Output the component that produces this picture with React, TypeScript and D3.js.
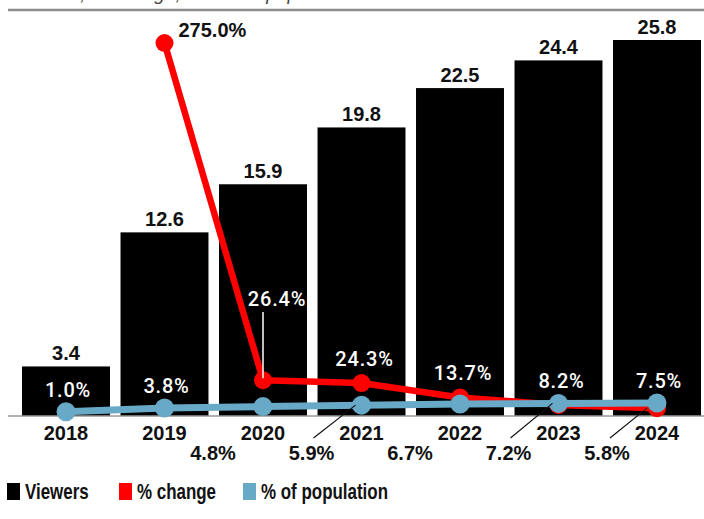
import React from "react";
import * as d3 from "d3";

const years = ["2018", "2019", "2020", "2021", "2022", "2023", "2024"];
const viewers = [3.4, 12.6, 15.9, 19.8, 22.5, 24.4, 25.8];
const pctChange: (number | null)[] = [null, 275.0, 26.4, 24.3, 13.7, 8.2, 5.8];
const pctPopulation = [1.0, 3.8, 4.8, 5.9, 6.7, 7.2, 7.5];

const legendItems = ["Viewers", "% change", "% of population"];
const subtitle = "millions, % change, and % of population";

// label placement modes (layout only)
const changeMode = ["none", "right", "leaderUp", "above", "above", "above", "belowLeader"];
const popMode = ["above", "above", "below", "belowLeader", "below", "belowLeader", "above"];

const W = 704;
const H = 519;
const BASE = 416;
const RED = "#ff0000";
const BLUE = "#67a9c7";
const BOLD = "'Liberation Sans', Arial, sans-serif";
const WHITEFONT = "Roboto, 'Noto Sans', sans-serif";

export default function App() {
  const x = d3
    .scaleBand<string>()
    .domain(years)
    .range([16.75, 706.25])
    .paddingInner(0.107)
    .paddingOuter(0.0535);
  const yV = d3.scaleLinear().domain([0, 25.8]).range([BASE, 40]);
  const yC = d3.scaleLinear().domain([0, 275]).range([BASE, 43]);
  const yP = d3.scaleLinear().domain([0, 7.5]).range([413, 403]);
  const cx = (i: number) => (x(years[i]) as number) + x.bandwidth() / 2;

  const changePts = pctChange
    .map((v, i) => (v == null ? null : ([cx(i), yC(v)] as [number, number])))
    .filter((p) => p != null) as [number, number][];
  const popPts = pctPopulation.map((v, i) => [cx(i), yP(v)] as [number, number]);
  const line = d3.line();

  const fmt = (v: number) => v.toFixed(1) + "%";

  const whiteText = (key: string, tx: number, ty: number, t: string) => (
    <text
      key={key}
      x={tx}
      y={ty}
      textAnchor="middle"
      fill="#fff"
      fontFamily={WHITEFONT}
      fontWeight={500}
      fontSize={20}
      letterSpacing={0.8}
    >
      {t}
    </text>
  );
  const blackText = (key: string, tx: number, ty: number, t: string, anchor = "middle") => (
    <text
      key={key}
      x={tx}
      y={ty}
      textAnchor={anchor}
      fill="#111"
      fontFamily={BOLD}
      fontWeight="bold"
      fontSize={20}
    >
      {t}
    </text>
  );

  const labels: React.ReactNode[] = [];
  pctChange.forEach((v, i) => {
    if (v == null) return;
    const px = cx(i);
    const py = yC(v);
    const m = changeMode[i];
    if (m === "right") labels.push(blackText("c" + i, px + 14, py - 6, fmt(v), "start"));
    else if (m === "leaderUp") {
      labels.push(
        <line key={"cl" + i} x1={px} x2={px} y1={312} y2={py - 2} stroke="#fff" strokeWidth={1.5} />
      );
      labels.push(whiteText("c" + i, px + 14, 306, fmt(v)));
    } else if (m === "above") labels.push(whiteText("c" + i, px + 3, py - 17, fmt(v)));
    else if (m === "belowLeader") {
      labels.push(
        <line key={"cl" + i} x1={px - 47} y1={438} x2={px - 10} y2={py} stroke="#111" strokeWidth={1.2} />
      );
      labels.push(blackText("c" + i, px - 50, 460, fmt(v)));
    }
  });
  pctPopulation.forEach((v, i) => {
    const px = cx(i);
    const py = yP(v);
    const m = popMode[i];
    if (m === "above") labels.push(whiteText("p" + i, px + 2, py - 15, fmt(v)));
    else if (m === "below") labels.push(blackText("p" + i, px - 50, 460, fmt(v)));
    else if (m === "belowLeader") {
      labels.push(
        <line key={"pl" + i} x1={px - 48} y1={438} x2={px - 6} y2={py} stroke="#111" strokeWidth={1.2} />
      );
      labels.push(blackText("p" + i, px - 50, 460, fmt(v)));
    }
  });

  const legendColors = ["#000", RED, BLUE];
  const legendX = [7, 119, 243];

  return (
    <svg
      width={W}
      height={H}
      style={{ position: "absolute", left: 0, top: 0, background: "#fff" }}
    >
      <text
        x={17}
        y={0}
        fontFamily={BOLD}
        fontStyle="italic"
        fontSize={19}
        fill="#444"
      >
        {subtitle}
      </text>
      <line x1={8} x2={W} y1={10} y2={10} stroke="#8c8c8c" strokeWidth={2.5} />

      {viewers.map((v, i) => (
        <rect
          key={"b" + i}
          x={x(years[i])}
          y={yV(v)}
          width={x.bandwidth()}
          height={BASE - yV(v)}
          fill="#000"
        />
      ))}
      <line x1={8} x2={W} y1={BASE} y2={BASE} stroke="#999" strokeWidth={1.5} />

      {viewers.map((v, i) => blackText("bv" + i, cx(i), yV(v) - 6, v.toFixed(1)))}
      {years.map((yr, i) => blackText("yr" + i, cx(i), 440, yr))}

      <path d={line(changePts) || ""} fill="none" stroke={RED} strokeWidth={6.5} strokeLinejoin="round" />
      {changePts.map((p, i) => (
        <circle key={"cd" + i} cx={p[0]} cy={p[1]} r={9} fill={RED} />
      ))}
      <path d={line(popPts) || ""} fill="none" stroke={BLUE} strokeWidth={7} strokeLinejoin="round" />
      {popPts.map((p, i) => (
        <circle key={"pd" + i} cx={p[0]} cy={p[1]} r={9.5} fill={BLUE} />
      ))}

      {labels}

      {legendItems.map((t, i) => (
        <g key={"lg" + i}>
          <rect x={legendX[i]} y={483} width={13} height={17} fill={legendColors[i]} />
          <text
            transform={`translate(${legendX[i] + 18},499) scale(0.77,1)`}
            fontFamily={BOLD}
            fontWeight="bold"
            fontSize={22}
            fill="#111"
          >
            {t}
          </text>
        </g>
      ))}
    </svg>
  );
}
